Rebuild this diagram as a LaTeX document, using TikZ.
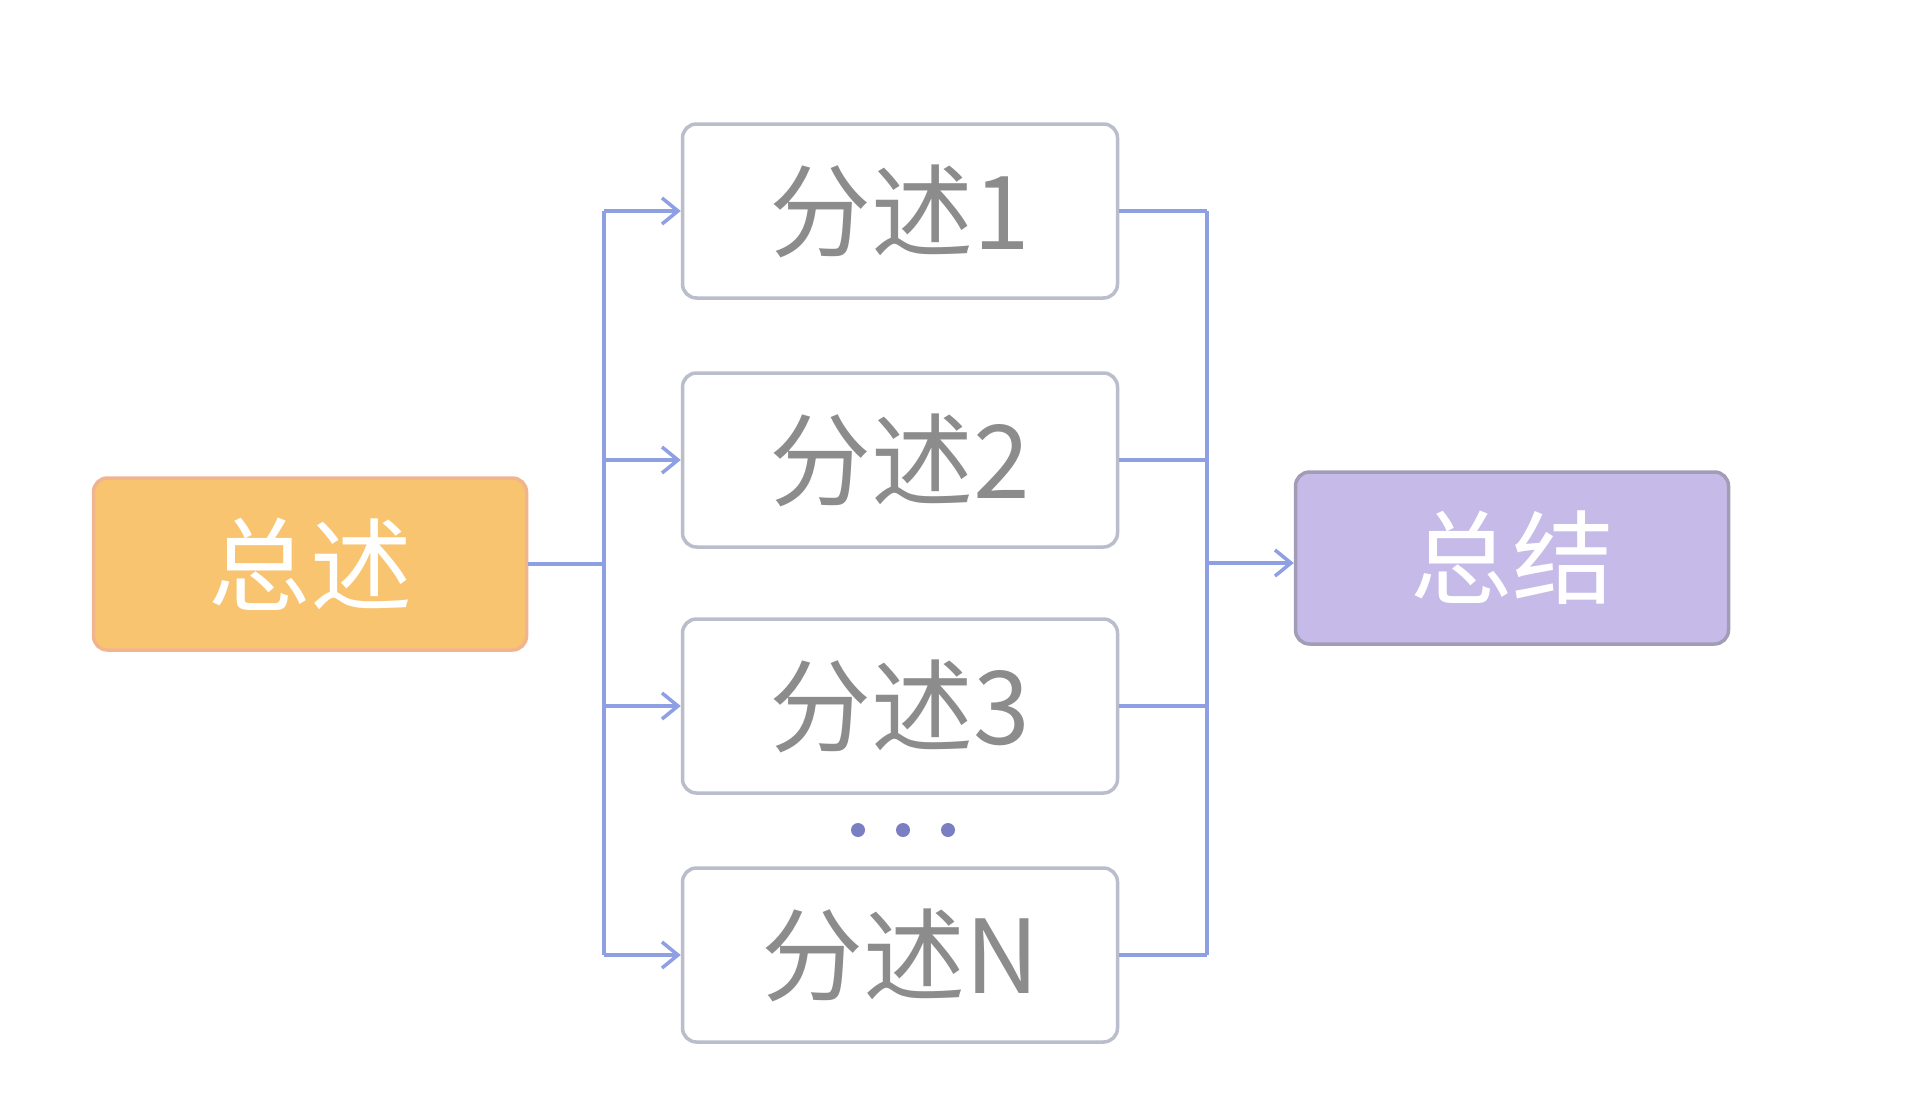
\documentclass[tikz,border=0pt]{standalone}
\usepackage{fontspec}
\setmainfont{Noto Sans CJK SC}
\usetikzlibrary{arrows.meta}
\definecolor{lineblue}{HTML}{8E9FE4}
\definecolor{boxgray}{HTML}{B9BDCC}
\definecolor{orangefill}{HTML}{F9C46F}
\definecolor{orangeedge}{HTML}{F0B58E}
\definecolor{purplefill}{HTML}{C6BAE8}
\definecolor{purpleedge}{HTML}{A29DB6}
\definecolor{textgray}{HTML}{8C8C8C}
\definecolor{dotblue}{HTML}{7A7FC4}
\tikzset{
  mainbox/.style={draw, line width=3.5pt, rounded corners=14pt, minimum width=433pt, minimum height=172pt, text=white, font=\fontsize{102pt}{110pt}\selectfont, inner sep=0pt},
  branchbox/.style={draw=boxgray, fill=white, line width=3.5pt, rounded corners=14pt, minimum width=435pt, minimum height=174pt, text=textgray, font=\fontsize{102pt}{110pt}\selectfont, inner sep=0pt},
  conn/.style={draw=lineblue, line width=3.5pt},
  arr/.style={conn, -{Straight Barb[length=16pt, width=26pt, line width=3.5pt]}},
  dotmark/.style={circle, fill=dotblue, minimum size=14pt, inner sep=0pt}
}
\begin{document}
\begin{tikzpicture}[x=1pt, y=-1pt]
\useasboundingbox[fill=white] (0,0) rectangle (1922,1114);
\node[mainbox, draw=orangeedge, fill=orangefill] (zs) at (310,564) {总述};
\node[mainbox, draw=purpleedge, fill=purplefill] (zj) at (1512,558) {总结};
\node[branchbox] (b1) at (900,211) {分述1};
\node[branchbox] (b2) at (900,460) {分述2};
\node[branchbox] (b3) at (900,706) {分述3};
\node[branchbox] (bn) at (900,955) {分述N};
\node[dotmark] (d1) at (858,830) {};
\node[dotmark] (d2) at (903,830) {};
\node[dotmark] (d3) at (948,830) {};
\coordinate (lj) at (604,564);
\coordinate (lt) at (604,211);
\coordinate (lb) at (604,955);
\coordinate (rt) at (1207,211);
\coordinate (rb) at (1207,955);
\coordinate (rj) at (1207,563);
\draw[conn] (zs.east) -- (lj);
\draw[conn] (lt) -- (lb);
\draw[conn] (rt) -- (rb);
\foreach \b in {b1,b2,b3,bn}{
  \draw[arr] (lt |- \b.west) -- (\b.west);
  \draw[conn] (\b.east) -- (rt |- \b.east);
}
\draw[arr] (rj) -- (zj.west |- rj);
\end{tikzpicture}
\end{document}
